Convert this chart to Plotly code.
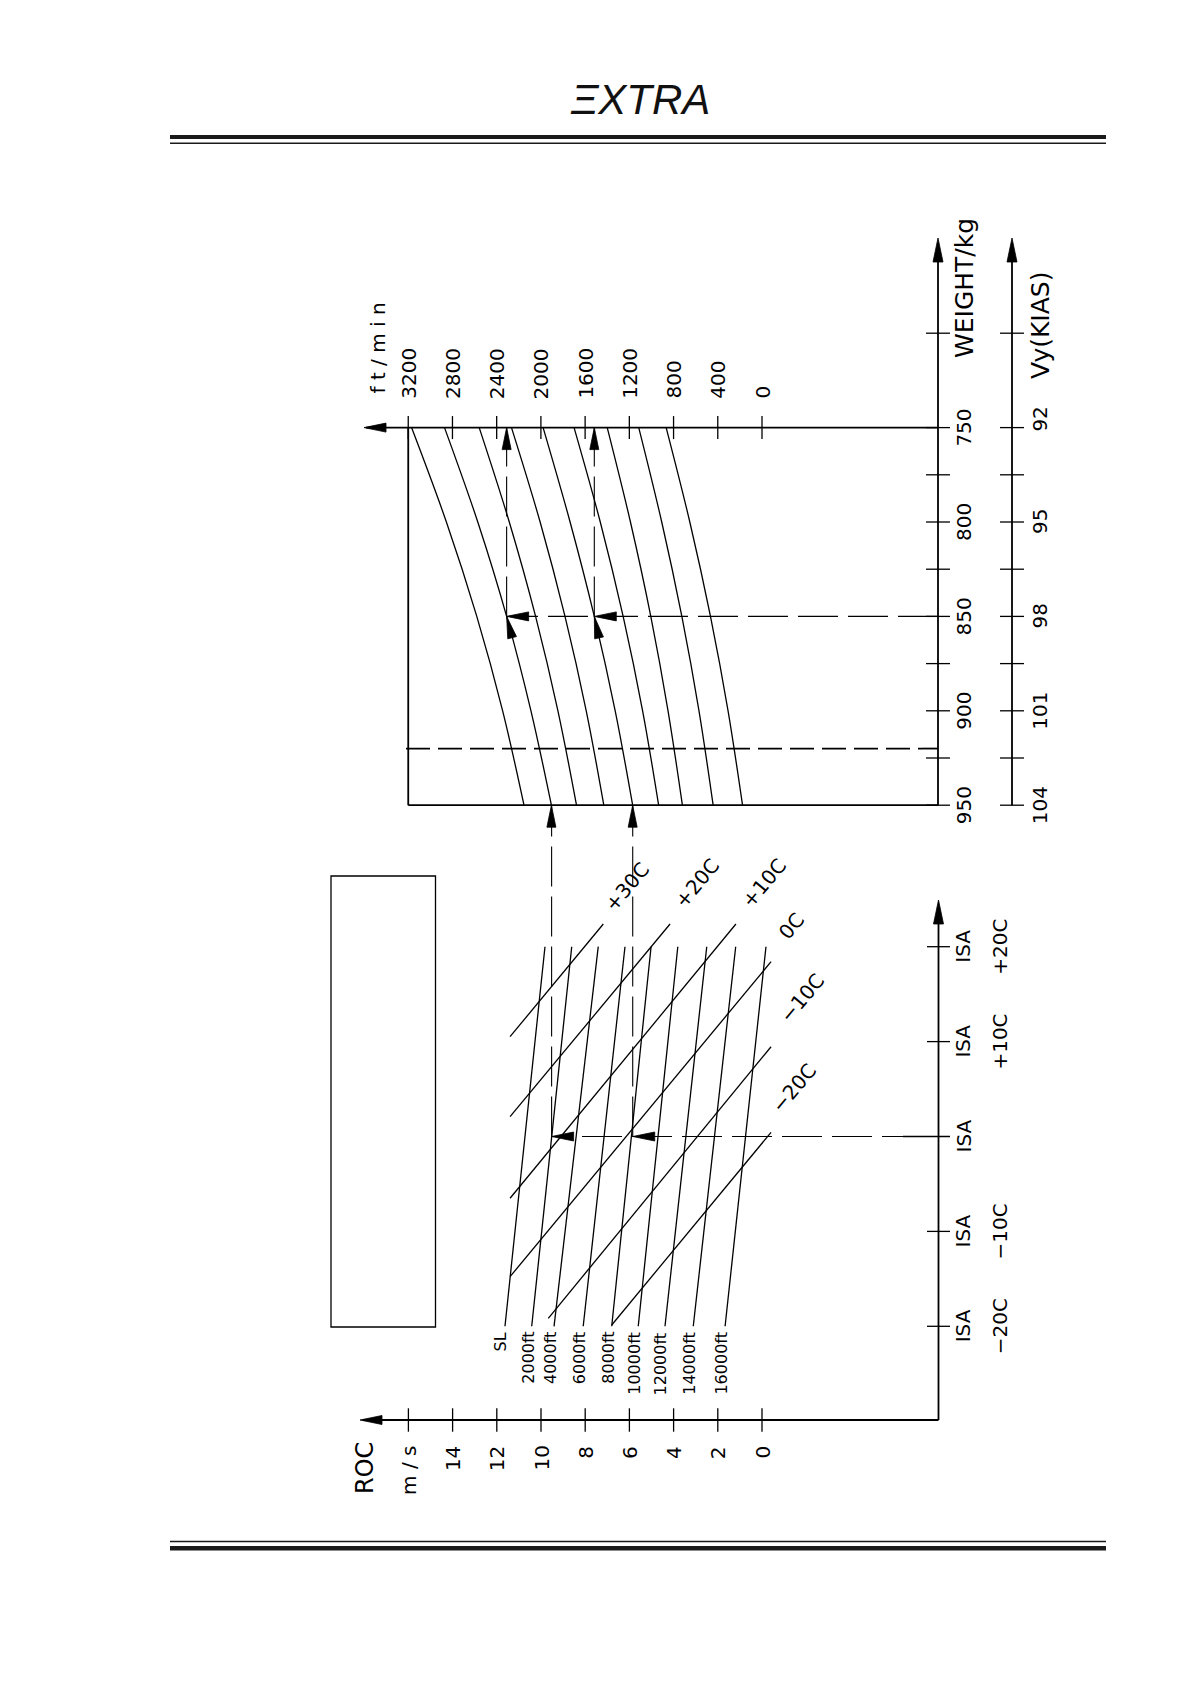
import plotly.graph_objects as go

W, H = 1191, 1684

# ------------------------------------------------------------------ data
# upper chart: rate of climb guide lines (ft/min) versus weight (kg)
weights_kg = [750, 800, 850, 900, 950]
roc_ftmin_line1 = [3170, 2855, 2580, 2346, 2153]
roc_ftmin_line2 = [2872, 2571, 2310, 2090, 1905]
roc_ftmin_line3 = [2558, 2286, 2048, 1846, 1678]
roc_ftmin_line4 = [2266, 2007, 1782, 1590, 1431]
roc_ftmin_line5 = [1980, 1736, 1517, 1328, 1170]
roc_ftmin_line6 = [1700, 1463, 1256, 1080, 935]
roc_ftmin_line7 = [1400, 1190, 1006, 850, 720]
roc_ftmin_line8 = [1115, 907, 725, 570, 442]
roc_ftmin_line9 = [867, 653, 466, 307, 176]
guide_lines = [roc_ftmin_line1, roc_ftmin_line2, roc_ftmin_line3, roc_ftmin_line4,
               roc_ftmin_line5, roc_ftmin_line6, roc_ftmin_line7, roc_ftmin_line8,
               roc_ftmin_line9]

roc_ticks_ftmin = [3200, 2800, 2400, 2000, 1600, 1200, 800, 400, 0]
weight_ticks = [700, 750, 775, 800, 825, 850, 875, 900, 925, 950]
weight_labels = [750, 800, 850, 900, 950]
vy_labels = ["92", "95", "98", "101", "104"]
chart_weight_min, chart_weight_max = 750, 950
chart_roc_max_ftmin = 3200
max_weight_dashed = 920

# lower chart: rate of climb (m/s) versus ISA deviation for each altitude
altitude_names = ["SL", "2000ft", "4000ft", "6000ft", "8000ft",
                  "10000ft", "12000ft", "14000ft", "16000ft"]
roc_ms_isa_minus20 = [11.63, 10.42, 9.41, 8.09, 6.80, 5.60, 4.39, 3.11, 1.67]
roc_ms_isa_plus20 = [9.82, 8.61, 7.41, 6.20, 5.02, 3.81, 2.50, 1.19, -0.18]
isa_dev_range = [-20, 20]

roc_ticks_ms = [0, 2, 4, 6, 8, 10, 12, 14, 16]
roc_tick_labels_ms = ["0", "2", "4", "6", "8", "10", "12", "14", "m / s"]
isa_dev_ticks = [-20, -10, 0, 10, 20]
isa_dev_labels = ["\u221220C", "\u221210C", "", "+10C", "+20C"]

# outside air temperature lines (start / end points in m/s, ISA deviation)
oat_names = ["+30C", "+20C", "+10C", "0C", "\u221210C", "\u221220C"]
oat_start_ms = [11.40, 11.40, 11.40, 11.40, 9.67, 6.80]
oat_start_dev = [10.52, 2.09, -6.51, -14.77, -19.16, -19.86]
oat_end_ms = [7.18, 4.16, 1.18, -0.41, -0.41, -0.41]
oat_end_dev = [22.39, 22.39, 22.39, 18.42, 9.46, 0.44]
oat_label_ms = [6.12, 2.93, -0.09, -1.34, -1.82, -1.45]
oat_label_dev = [26.3, 26.7, 26.7, 22.2, 14.6, 5.1]

# worked example
example_isa_dev = 0
example_roc_ms = [9.52, 5.85]
example_roc_950 = [1905, 1170]
example_weight = 850
example_roc_850 = [2310, 1517]

# ------------------------------------------------------------------ page calibration (px)
FT0, FTS = 762.0, 0.11055   # x of 0 ft/min, px per ft/min
KG0, KGS = 427.6, 1.888     # y of 750 kg, px per kg
MS0, MSS = 762.0, 22.1      # x of 0 m/s, px per m/s
DV0, DVS = 1136.5, 9.49     # y of ISA, px per deg C


def ft(px): return (FT0 - px) / FTS
def ftpx(v): return FT0 - v * FTS
def kg(py): return 750 + (py - KG0) / KGS
def kgpx(w): return KG0 + (w - 750) * KGS
def ms(px): return (MS0 - px) / MSS
def mspx(v): return MS0 - v * MSS
def dv(py): return (DV0 - py) / DVS
def dvpx(d): return DV0 - d * DVS


AX = {"u": dict(xaxis="x", yaxis="y"), "l": dict(xaxis="x2", yaxis="y2")}
CONV = {"u": (ft, kg, ftpx, kgpx), "l": (ms, dv, mspx, dvpx)}
traces = []
annotations = []
FONT = "DejaVu Sans"


def line(sub, xs, ys, width=1.3, dash=None, shape="linear"):
    traces.append(go.Scatter(x=xs, y=ys, mode="lines",
                             line=dict(color="black", width=width, dash=dash, shape=shape),
                             hoverinfo="skip", showlegend=False, **AX[sub]))


def arrows(sub, tips, dirs, length=22, half=4.5):
    fx, fy, tx_, ty_ = CONV[sub]
    xs, ys = [], []
    for (tx, ty), (dx, dy) in zip(tips, dirs):
        X, Y = tx_(tx), ty_(ty)
        n = (dx * dx + dy * dy) ** 0.5
        dx, dy = dx / n, dy / n
        bx, by = X - dx * length, Y - dy * length
        nx, ny = -dy, dx
        for p in [(X, Y), (bx + nx * half, by + ny * half), (bx - nx * half, by - ny * half), (X, Y)]:
            xs.append(fx(p[0]))
            ys.append(fy(p[1]))
        xs.append(None)
        ys.append(None)
    traces.append(go.Scatter(x=xs, y=ys, mode="lines", fill="toself", fillcolor="black",
                             line=dict(color="black", width=0.8), hoverinfo="skip",
                             showlegend=False, **AX[sub]))


def text(sub, x, y, s, size=20, angle=-90, xa="center", ya="middle", xshift=0, yshift=0):
    xr, yr = ("x", "y") if sub == "u" else ("x2", "y2")
    annotations.append(dict(x=x, y=y, xref=xr, yref=yr, text=s, showarrow=False,
                            textangle=angle, xanchor=xa, yanchor=ya, xshift=xshift, yshift=yshift,
                            font=dict(family=FONT, size=size, color="black")))


# ------------------------------------------------------------------ upper chart
# ft/min axis (at 750 kg)
line("u", [ft(366), ft(938)], [chart_weight_min, chart_weight_min], width=1.8)
arrows("u", [(ft(364), chart_weight_min)], [(-1, 0)])
xs, ys = [], []
for v in roc_ticks_ftmin:
    xs += [v, v, None]
    ys += [kg(KG0 - 11.5), kg(KG0 + 11.5), None]
line("u", xs, ys, width=1.3)
for v in roc_ticks_ftmin:
    text("u", v, kg(401), str(v), ya="bottom")
text("u", ft(377), kg(396), "f t / m i n", ya="bottom")

# weight axis and Vy axis
for axpx in (938, 1012):
    line("u", [ft(axpx), ft(axpx)], [chart_weight_max, kg(246)], width=1.8)
    arrows("u", [(ft(axpx), kg(238))], [(0, -1)], length=24, half=5)
    xs, ys = [], []
    for w in weight_ticks:
        xs += [ft(axpx - 12), ft(axpx + 12), None]
        ys += [w, w, None]
    line("u", xs, ys, width=1.3)
for w in weight_labels:
    text("u", ft(964), w, str(w))
text("u", ft(964), kg(288), "WEIGHT/kg", size=25)
for w, s in zip(weight_labels, vy_labels):
    text("u", ft(1040), w, s, yshift=(8 if s == "92" else 0))
text("u", ft(1040), kg(326), "Vy(KIAS)", size=25)

# chart frame
line("u", [chart_roc_max_ftmin, chart_roc_max_ftmin], [chart_weight_min, chart_weight_max], width=1.8)
line("u", [chart_roc_max_ftmin, ft(938)], [chart_weight_max, chart_weight_max], width=1.8)
line("u", [ft(406), ft(922)], [max_weight_dashed, max_weight_dashed], width=1.8, dash="24px,8px")
line("u", [ft(922), ft(938)], [max_weight_dashed, max_weight_dashed], width=1.8)

# guide lines
for g in guide_lines:
    line("u", g, weights_kg, width=1.3, shape="spline")

# example path in upper chart
line("u", [ft(938), example_roc_850[0]], [example_weight, example_weight], width=1.1, dash="40px,10px")
for v in example_roc_850:
    line("u", [v, v], [example_weight, chart_weight_min], width=1.1, dash="40px,10px")
tips, dirs = [], []
for v950 in example_roc_950:
    tips.append((v950, chart_weight_max)); dirs.append((0, -1))
for v850, g in zip(example_roc_850, (roc_ftmin_line2, roc_ftmin_line5)):
    tips.append((v850, chart_weight_min)); dirs.append((0, -1))
    tips.append((v850, example_weight)); dirs.append((-1, 0))
    dx = ftpx(g[2]) - ftpx(g[3]); dy = kgpx(weights_kg[2]) - kgpx(weights_kg[3])
    tips.append((v850, example_weight)); dirs.append((dx, dy))
arrows("u", tips, dirs)

# ------------------------------------------------------------------ lower chart
# m/s axis
line("l", [ms(363), ms(938.5)], [dv(1420), dv(1420)], width=1.8)
arrows("l", [(ms(360), dv(1420))], [(-1, 0)])
xs, ys = [], []
for v in roc_ticks_ms:
    xs += [v, v, None]
    ys += [dv(1408.3), dv(1431.7), None]
line("l", xs, ys, width=1.3)
for v, s in zip(roc_ticks_ms, roc_tick_labels_ms):
    text("l", v, dv(1444), s, ya="top")
text("l", ms(365), dv(1468), "ROC", size=24)

# ISA deviation axis
line("l", [ms(938.5), ms(938.5)], [dv(1420), dv(908)], width=1.8)
arrows("l", [(ms(938.5), dv(900))], [(0, -1)], length=24, half=5)
xs, ys = [], []
for d in isa_dev_ticks:
    xs += [ms(903 if d == example_isa_dev else 927), ms(950), None]
    ys += [d, d, None]
line("l", xs, ys, width=1.3)
for d, s in zip(isa_dev_ticks, isa_dev_labels):
    text("l", ms(963), d, "ISA")
    if s:
        text("l", ms(1000), d, s)

# altitude lines
for a, b, name in zip(roc_ms_isa_minus20, roc_ms_isa_plus20, altitude_names):
    line("l", [a, b], isa_dev_range, width=1.3)
    text("l", a, dv(1330), name, size=16, ya="top", xshift=-4)

# OAT lines
for x0, y0, x1, y1 in zip(oat_start_ms, oat_start_dev, oat_end_ms, oat_end_dev):
    line("l", [x0, x1], [y0, y1], width=1.3)
for x, y, s in zip(oat_label_ms, oat_label_dev, oat_names):
    text("l", x, y, s, angle=-50)

# example path in lower chart
line("l", [ms(922), example_roc_ms[0]], [example_isa_dev, example_isa_dev], width=1.1, dash="40px,10px")
for v in example_roc_ms:
    line("l", [v, v], [example_isa_dev, dv(kgpx(chart_weight_max))], width=1.1, dash="40px,10px")
arrows("l", [(v, example_isa_dev) for v in example_roc_ms], [(-1, 0)] * 2)

# ------------------------------------------------------------------ page furniture
shapes = [
    dict(type="line", xref="paper", yref="paper", x0=170 / W, x1=1106 / W, y0=1 - 137 / H, y1=1 - 137 / H,
         line=dict(color="#1a1a1a", width=4)),
    dict(type="line", xref="paper", yref="paper", x0=170 / W, x1=1106 / W, y0=1 - 143.3 / H, y1=1 - 143.3 / H,
         line=dict(color="#1a1a1a", width=1.5)),
    dict(type="line", xref="paper", yref="paper", x0=170 / W, x1=1106 / W, y0=1 - 1541.5 / H, y1=1 - 1541.5 / H,
         line=dict(color="#1a1a1a", width=1.5)),
    dict(type="line", xref="paper", yref="paper", x0=170 / W, x1=1106 / W, y0=1 - 1548.3 / H, y1=1 - 1548.3 / H,
         line=dict(color="#1a1a1a", width=4.5)),
    dict(type="rect", xref="paper", yref="paper", x0=331 / W, x1=435.5 / W, y0=1 - 1327 / H, y1=1 - 876 / H,
         line=dict(color="black", width=1.3)),
]
annotations.append(dict(x=640 / W, y=1 - 100 / H, xref="paper", yref="paper", text="\u039eXTRA",
                        showarrow=False, xanchor="center", yanchor="middle",
                        font=dict(family="Liberation Sans", size=42, color="#111", style="italic")))

fig = go.Figure(traces)
hidden = dict(visible=False, showgrid=False, zeroline=False)
fig.update_layout(
    width=W, height=H, autosize=False,
    margin=dict(l=0, r=0, t=0, b=0),
    paper_bgcolor="white", plot_bgcolor="rgba(0,0,0,0)",
    showlegend=False,
    xaxis=dict(domain=[0, 1], range=[ft(0), ft(W)], anchor="y", **hidden),
    yaxis=dict(domain=[0, 1], range=[kg(H), kg(0)], anchor="x", **hidden),
    xaxis2=dict(domain=[0, 1], range=[ms(0), ms(W)], anchor="y2", **hidden),
    yaxis2=dict(domain=[0, 1], range=[dv(H), dv(0)], anchor="x2", **hidden),
    shapes=shapes,
    annotations=annotations,
)
fig.write_html("out.html", include_plotlyjs=True, full_html=True,
               config={"displayModeBar": False},
               post_script="document.body.style.margin='0';document.body.style.overflow='hidden';")
